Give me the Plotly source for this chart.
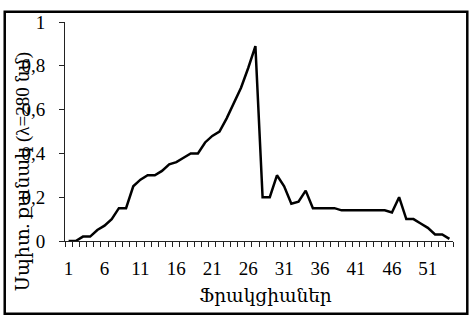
import plotly.graph_objects as go

fractions = list(range(1, 55))
absorbance = [0.00, 0.00, 0.02, 0.02, 0.05, 0.07, 0.10, 0.15, 0.15, 0.25,
              0.28, 0.30, 0.30, 0.32, 0.35, 0.36, 0.38, 0.40, 0.40, 0.45,
              0.48, 0.50, 0.56, 0.63, 0.70, 0.79, 0.89, 0.20, 0.20, 0.30,
              0.25, 0.17, 0.18, 0.23, 0.15, 0.15, 0.15, 0.15, 0.14, 0.14,
              0.14, 0.14, 0.14, 0.14, 0.14, 0.13, 0.20, 0.10, 0.10, 0.08,
              0.06, 0.03, 0.03, 0.01]
x_tickvals = [1, 6, 11, 16, 21, 26, 31, 36, 41, 46, 51]
y_tickvals = [0, 0.2, 0.4, 0.6, 0.8, 1]
y_ticktext = ["0", "0,2", "0,4", "0,6", "0,8", "1"]
x_title = "Ֆրակցիաներ"
y_title = "Սպիտ. քանակ (λ=280 նմ)"

W, H = 471, 320
L, R, T, B = 64.5, 18.3, 15, 79
pw, ph = W - L - R, H - T - B

def px(x):
    return (x - L) / pw

def py(y):
    return (H - B - y) / ph

font = "Liberation Serif, DejaVu Serif, serif"

fig = go.Figure()
fig.add_trace(go.Scatter(x=fractions, y=absorbance, mode="lines",
                         line=dict(color="black", width=2.5), showlegend=False))

fig.update_layout(
    width=W, height=H,
    margin=dict(l=L, r=R, t=T, b=B, pad=0),
    paper_bgcolor="white", plot_bgcolor="white",
    font=dict(family=font, size=16, color="black"),
    xaxis=dict(range=[0.5, 54.5], tickmode="array", tickvals=x_tickvals,
               ticks="", showline=True, linecolor="#222", linewidth=1,
               showgrid=False, zeroline=False, ticklabelstandoff=10,
               tickfont=dict(family=font, size=19),
               minor=dict(ticks="outside", tick0=0.5, dtick=1, ticklen=5,
                          tickcolor="#222", tickwidth=1, showgrid=False)),
    yaxis=dict(range=[0, 1], tickmode="array", tickvals=y_tickvals,
               ticktext=y_ticktext, ticks="outside", ticklen=5,
               tickcolor="#222", showline=True, linecolor="#222", linewidth=1,
               showgrid=False, zeroline=False, ticklabelstandoff=10,
               tickfont=dict(family=font, size=19)),
    annotations=[
        dict(text=x_title, xref="paper", yref="paper", x=px(265), y=py(298),
             xanchor="center", yanchor="middle", showarrow=False,
             font=dict(family=font, size=18.5)),
        dict(text=y_title, xref="paper", yref="paper", x=px(22.5), y=py(170),
             xanchor="center", yanchor="middle", showarrow=False,
             textangle=-90, font=dict(family=font, size=19)),
    ],
    shapes=[dict(type="rect", xref="paper", yref="paper",
                 x0=px(4.2), x1=px(467), y0=py(316), y1=py(4.5),
                 line=dict(color="black", width=2.5), layer="above")],
)

fig.write_html("out.html")
